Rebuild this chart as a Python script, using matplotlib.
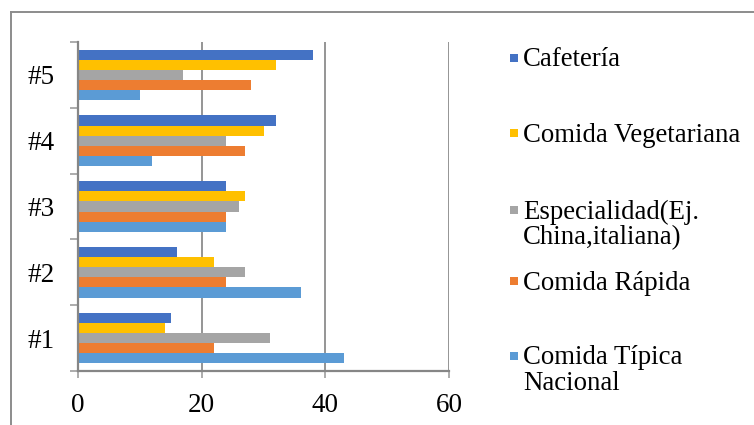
import matplotlib
matplotlib.use("Agg")
import matplotlib.pyplot as plt
from matplotlib.lines import Line2D
from matplotlib.patches import Rectangle
import numpy as np

plt.rcParams['font.family'] = ['Liberation Serif', 'DejaVu Serif']

categories = ["#1", "#2", "#3", "#4", "#5"]
series_names = ["Comida Típica\nNacional", "Comida Rápida", "Especialidad(Ej.\nChina,italiana)",
                "Comida Vegetariana", "Cafetería"]
tipica = [43, 36, 24, 12, 10]
rapida = [22, 24, 24, 27, 28]
especialidad = [31, 27, 26, 24, 17]
vegetariana = [14, 22, 27, 30, 32]
cafeteria = [15, 16, 24, 32, 38]
xticks = [0, 20, 40, 60]
colors = ["#5B9BD5", "#ED7D31", "#A5A5A5", "#FFC000", "#4472C4"]

values = [tipica, rapida, especialidad, vegetariana, cafeteria]

W, H = 754, 425
fig = plt.figure(figsize=(W / 100, H / 100), dpi=100)
ax = fig.add_axes([78 / W, 1 - 371 / H, (449 - 78) / W, (371 - 42) / H])

y = np.arange(len(categories))
h = 0.154
for i, (vals, c) in enumerate(zip(values, colors)):
    ax.barh(y + (i - 2) * h, vals, height=h, color=c, edgecolor='none', zorder=3)

ax.set_xlim(0, 60)
ax.set_ylim(-0.5, 4.5)
ax.set_xticks(xticks)
ax.set_xticklabels([str(v) for v in xticks], fontsize=19.5)
ax.set_yticks(y)
ax.set_yticklabels(categories, fontsize=19.5)
ax.set_yticks(np.arange(-0.5, 5.0, 1.0), minor=True)
ax.tick_params(axis='y', which='major', length=0, pad=17)
ax.tick_params(axis='y', which='minor', length=5.8, width=1.3, color='#A6A6A6', direction='out')
ax.tick_params(axis='x', which='major', length=5.0, width=1.3, color='#A6A6A6', direction='out', pad=11)

for s in ['top', 'right']:
    ax.spines[s].set_visible(False)
for s in ['left', 'bottom']:
    ax.spines[s].set_color('#868686')
    ax.spines[s].set_linewidth(1.6)
ax.spines['left'].set_zorder(4)
ax.xaxis.grid(True, color='#8C8C8C', linewidth=1.3, zorder=1)
ax.set_axisbelow(True)

# outer frame
fig.add_artist(Line2D([11 / W, 1], [1 - 12 / H, 1 - 12 / H], color='#8C8C8C', linewidth=1.4))
fig.add_artist(Line2D([11 / W, 11 / W], [0, 1 - 12 / H], color='#8C8C8C', linewidth=1.4))

# legend (manual, Excel-like)
leg_y = [358, 283, 212, 135, 60]
sq = 8
for name, c, ly in zip(series_names, colors, leg_y):
    fig.add_artist(Rectangle((510 / W, 1 - (ly - 2 + sq / 2) / H), sq / W, sq / H,
                             facecolor=c, edgecolor='none', transform=fig.transFigure))
    lines = name.split("\n")
    for k, ln in enumerate(lines):
        fig.text(523 / W, 1 - (ly + k * 26) / H, ln, fontsize=19.3, va='center', ha='left')

fig.savefig("out.png", dpi=100)
